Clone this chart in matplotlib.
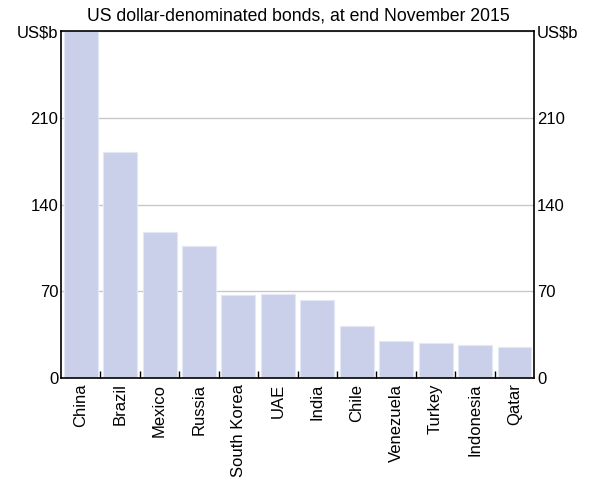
import numpy as np
import matplotlib
matplotlib.use("Agg")
import matplotlib.pyplot as plt

plt.rcParams['font.family'] = ['Liberation Sans', 'DejaVu Sans']

countries = ["China", "Brazil", "Mexico", "Russia", "South Korea", "UAE",
             "India", "Chile", "Venezuela", "Turkey", "Indonesia", "Qatar"]
bonds = [285, 182.6, 117.5, 106.2, 66.8, 67.6, 63.3, 41.7, 30.2, 28.1, 26.5, 25.4]

yticks = [0, 70, 140, 210, 280]
ylabels = ["0", "70", "140", "210", "US$b"]

fig = plt.figure(figsize=(5.96, 4.87), dpi=100)
ax = fig.add_axes([0.1023, 0.2238, 0.794, 0.7125])

x = np.arange(len(countries))
ax.bar(x, bonds, width=0.86, color="#cbd0ea", edgecolor="#e4e7f4", linewidth=0.8, zorder=2)

ax.set_xlim(-0.5, len(countries) - 0.5)
ax.set_ylim(0, 280)
ax.set_yticks(yticks)
ax.set_yticklabels(ylabels)
ax.grid(True, axis='y', color="#c8c8c8", linewidth=1, zorder=0)
ax.set_axisbelow(True)

ax.tick_params(axis='y', length=0, labelsize=12, pad=2, labelright=True, right=False)
ax.set_xticks(x)
ax.set_xticklabels(countries, rotation=90)
ax.tick_params(axis='x', which='major', length=0, labelsize=12, pad=4)
ax.set_xticks(np.arange(0.5, len(countries) - 0.5, 1), minor=True)
ax.tick_params(axis='x', which='minor', direction='in', length=5, width=1, color='black')

for s in ax.spines.values():
    s.set_linewidth(1.2)
    s.set_color('black')

fig.text(0.5, 0.968, "US dollar-denominated bonds, at end November 2015",
         ha='center', va='center', fontsize=12.7)

fig.savefig("out.png", dpi=100)
